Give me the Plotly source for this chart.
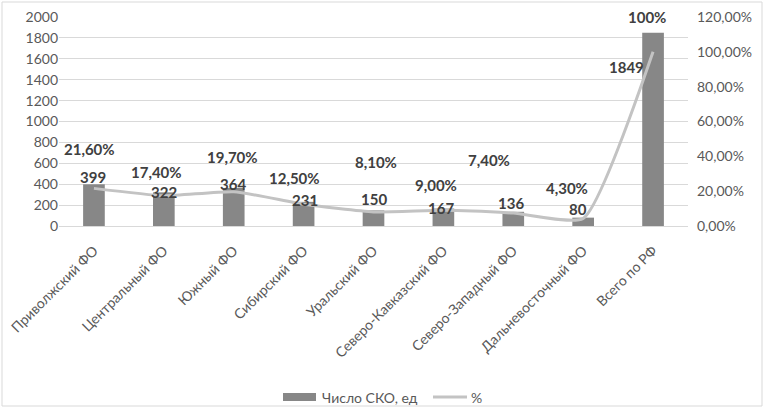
import plotly.graph_objects as go

categories = ["Приволжский ФО", "Центральный ФО", "Южный ФО", "Сибирский ФО",
              "Уральский ФО", "Северо-Кавказский ФО", "Северо-Западный ФО",
              "Дальневосточный ФО", "Всего по РФ"]
counts = [399, 322, 364, 231, 150, 167, 136, 80, 1849]
shares = [0.216, 0.174, 0.197, 0.125, 0.081, 0.090, 0.074, 0.043, 1.0]
share_labels = ["21,60%", "17,40%", "19,70%", "12,50%", "8,10%", "9,00%", "7,40%", "4,30%", "100%"]
left_ticks = [0, 200, 400, 600, 800, 1000, 1200, 1400, 1600, 1800, 2000]
right_ticks = [0, 0.2, 0.4, 0.6, 0.8, 1.0, 1.2]
right_tick_labels = ["0,00%", "20,00%", "40,00%", "60,00%", "80,00%", "100,00%", "120,00%"]
series_names = ["Число СКО, ед", "%"]

# label placement offsets (pixels), as positioned in the original
pct_shift = [(-4, 39), (-7, 24), (-1, 35), (-9, 26), (2, 50), (-7, 25), (-24, 53), (-16, 31), (-6, 35)]
cnt_shift = [(-1, 7), (0, 0), (-1, 4), (1, 2), (0, 11), (-2, 1), (-2, 9), (-5, 9), (-27, -34)]

FONT = "Lato"
TICK_COLOR = "#595959"
LABEL_COLOR = "#404040"
BAR_COLOR = "#878787"
LINE_COLOR = "#c3c3c3"

W, H = 765, 408
L, R, T, B = 59, 77, 17, 182
PW, PH = W - L - R, H - T - B


def px_x(px):
    return (px - L) / PW


def px_y(py):
    return (H - B - py) / PH


fig = go.Figure()
fig.add_trace(go.Bar(x=categories, y=counts, name=series_names[0],
                     marker=dict(color=BAR_COLOR, line=dict(width=0)), yaxis="y"))
fig.add_trace(go.Scatter(x=categories, y=shares, name=series_names[1], mode="lines",
                         line=dict(color=LINE_COLOR, width=3, shape="spline", smoothing=0.5),
                         yaxis="y2"))

label_font = dict(family=FONT, size=15, color=LABEL_COLOR, weight="bold")
annotations = []
for c, v, (dx, dy) in zip(categories, counts, cnt_shift):
    annotations.append(dict(x=c, y=v, xref="x", yref="y", text=str(v), showarrow=False,
                            xshift=dx, yshift=dy, yanchor="middle", font=label_font))
for c, s, t, (dx, dy) in zip(categories, shares, share_labels, pct_shift):
    annotations.append(dict(x=c, y=s, xref="x", yref="y2", text=t, showarrow=False,
                            xshift=dx, yshift=dy, yanchor="middle", font=label_font))

# legend drawn as in the original (wide swatch + short line)
legend_font = dict(family=FONT, size=14, color=TICK_COLOR)
annotations.append(dict(x=px_x(320), y=px_y(397), xref="paper", yref="paper",
                        text=series_names[0], showarrow=False, xanchor="left",
                        yanchor="middle", font=legend_font))
annotations.append(dict(x=px_x(469), y=px_y(397), xref="paper", yref="paper",
                        text=series_names[1], showarrow=False, xanchor="left",
                        yanchor="middle", font=legend_font))

shapes = [
    dict(type="rect", xref="paper", yref="paper", x0=px_x(2), x1=px_x(762),
         y0=px_y(406), y1=px_y(2), line=dict(color="#d9d9d9", width=1)),
    dict(type="rect", xref="paper", yref="paper", x0=px_x(283), x1=px_x(316),
         y0=px_y(401), y1=px_y(393), fillcolor=BAR_COLOR, line=dict(width=0)),
    dict(type="line", xref="paper", yref="paper", x0=px_x(433), x1=px_x(467),
         y0=px_y(397), y1=px_y(397), line=dict(color=LINE_COLOR, width=3)),
]

fig.update_layout(
    width=W, height=H,
    margin=dict(l=L, r=R, t=T, b=B, autoexpand=False),
    paper_bgcolor="white", plot_bgcolor="white",
    font=dict(family=FONT, size=14, color=TICK_COLOR),
    bargap=0.69,
    showlegend=False,
    xaxis=dict(tickangle=-45, showgrid=False, showline=True, linecolor="#d9d9d9",
               tickfont=dict(family=FONT, size=14, color=TICK_COLOR), ticks="",
               ticklabelstandoff=10, automargin=False),
    yaxis=dict(range=[0, 2000], tickvals=left_ticks, showgrid=True, gridcolor="#d9d9d9",
               zeroline=False, showline=False, ticks="", automargin=False,
               tickfont=dict(family=FONT, size=14, color=TICK_COLOR)),
    yaxis2=dict(range=[0, 1.2], overlaying="y", side="right", tickvals=right_ticks,
                ticktext=right_tick_labels, showgrid=False, zeroline=False, ticks="",
                automargin=False, ticklabelstandoff=8,
                tickfont=dict(family=FONT, size=14, color=TICK_COLOR)),
    annotations=annotations,
    shapes=shapes,
)

fig.write_html("out.html", config={"displayModeBar": False},
               post_script="document.body.style.margin='0';document.body.style.overflow='hidden';")
